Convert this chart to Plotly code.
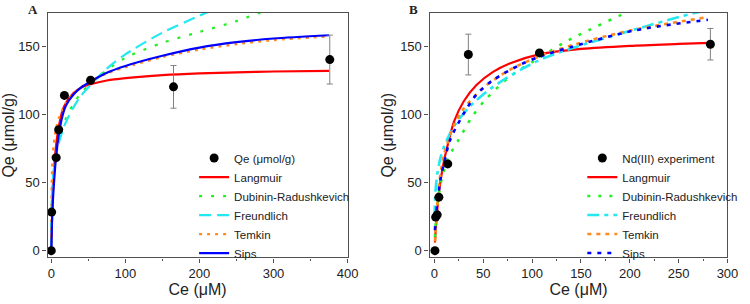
import plotly.graph_objects as go

# ---------------- Panel A data ----------------
a_exp_x = [0, 0.5, 6.6, 10, 17.7, 53, 165, 376]
a_exp_y = [0, 28.4, 68.5, 89, 114.3, 125.5, 120.6, 140.7]
a_exp_err = [0, 0, 0, 0, 0, 0, 15.7, 18]

a_lang_x = [0, 1, 2, 3, 5, 7, 10, 15, 20, 30, 40, 53, 75, 100, 150, 200, 250, 300, 375]
a_lang_y = [0, 24, 40, 52, 69, 80, 91, 103, 109, 116, 120, 122.5, 125.3, 127, 129.2, 130.5, 131.3, 131.9, 132.4]

a_dr_x = [0, 0.5, 1, 2, 3, 5, 10, 20, 30, 40, 53, 75, 100, 150, 200, 250, 281, 300]
a_dr_y = [0, 30, 40, 50, 56, 64, 80, 98, 108, 116, 123, 133, 142, 153, 161, 169, 175, 178]

a_fr_x = [0, 0.1, 0.5, 1, 2, 3, 5, 7, 10, 15, 20, 30, 40, 53, 75, 100, 150, 200, 215]
a_fr_y = [0, 23.7, 36, 43.3, 52, 58, 66, 72, 79, 88, 95, 105.5, 114, 122, 134, 144.5, 160.5, 173, 176.5]

a_tk_x = [0.05, 0.2, 0.5, 1, 2, 3, 5, 7, 10, 15, 20, 30, 40, 53, 75, 100, 150, 200, 250, 300, 375]
a_tk_y = [9, 33, 48, 59, 71, 77, 86, 91.5, 97.4, 104, 109, 115.6, 120.3, 125, 130.5, 135, 142.5, 148, 152, 155, 157.8]

a_sips_x = [0, 1, 2, 3, 5, 7, 10, 15, 20, 30, 40, 53, 75, 100, 150, 200, 250, 300, 375]
a_sips_y = [0, 22, 35, 45, 60, 72, 85, 99, 107, 115, 120, 124.5, 131, 136, 143.5, 149.5, 153.5, 156.2, 158.6]

# ---------------- Panel B data ----------------
b_exp_x = [0.5, 1.2, 2.8, 4.5, 13.6, 34.7, 107.5, 282.5]
b_exp_y = [0, 24.7, 26.4, 39.4, 63.9, 144.4, 145.6, 152]
b_exp_err = [0, 0, 0, 0, 0, 15, 0, 11.6]

b_lang_x = [0.5, 1, 2, 3, 5, 7, 10, 13.6, 20, 30, 43, 60, 77, 107, 150, 200, 250, 282]
b_lang_y = [6, 12, 22, 31, 45, 55, 67, 78, 95, 110, 122, 131.6, 137.8, 144.5, 148.5, 150.8, 152.2, 153]

b_dr_x = [0.5, 1, 2, 3, 5, 8, 14.6, 25, 38, 52, 77, 114, 134, 147, 196, 205]
b_dr_y = [10, 17, 27, 34, 44, 55, 69, 82, 98, 111, 128, 145, 153.7, 158.5, 175, 177]

b_fr_x = [0.1, 0.5, 1, 3, 6, 10, 20, 36, 60, 103.5, 140.5, 206, 266, 280]
b_fr_y = [24.3, 36.4, 43.3, 57, 68, 77, 91.6, 106, 120.6, 139, 149, 163, 175, 177]

b_tk_x = [0.5, 1, 2, 3, 5, 10, 20, 30, 50, 76.7, 107, 140.5, 200, 280]
b_tk_y = [6.8, 12, 22.8, 35, 50.5, 71.4, 92.4, 104.6, 120, 133, 143, 151.2, 162, 172]

b_sips_x = [0.5, 1, 3, 6, 10, 16, 30, 43, 60, 87, 107, 140, 206, 280]
b_sips_y = [15, 22, 36, 52, 65, 81.5, 101, 115, 125.6, 136.6, 142.7, 150, 162.3, 170]

FONT = "Liberation Sans, Arial, sans-serif"
SERIF = "Liberation Serif, Times New Roman, serif"
RED, GREEN, CYAN, ORANGE, BLUE = "#FF0000", "#22F022", "#22E8F2", "#FF8A1E", "#0000FF"

fig = go.Figure()


def curve(x, y, name, color, dash, xa, ya, leg, rank, width=2.2):
    fig.add_trace(go.Scatter(
        x=x, y=y, name=name, mode="lines",
        line=dict(color=color, width=width, dash=dash, shape="spline", smoothing=0.8),
        xaxis=xa, yaxis=ya, legend=leg, legendrank=rank))


# Panel A curves
curve(a_lang_x, a_lang_y, "Langmuir", RED, "solid", "x", "y", "legend", 2)
curve(a_dr_x, a_dr_y, "Dubinin-Radushkevich", GREEN, "3px,9px", "x", "y", "legend", 3)
curve(a_fr_x, a_fr_y, "Freundlich", CYAN, "12px,6px", "x", "y", "legend", 4)
curve(a_tk_x, a_tk_y, "Temkin", ORANGE, "3px,5px", "x", "y", "legend", 5)
curve(a_sips_x, a_sips_y, "Sips", BLUE, "solid", "x", "y", "legend", 6)

fig.add_trace(go.Scatter(
    x=a_exp_x, y=a_exp_y, name="Qe (μmol/g)", mode="markers",
    marker=dict(color="black", size=9),
    error_y=dict(type="data", array=a_exp_err, color="#808080", thickness=1, width=3),
    xaxis="x", yaxis="y", legend="legend", legendrank=1))

# Panel B curves
curve(b_lang_x, b_lang_y, "Langmuir", RED, "solid", "x2", "y2", "legend2", 2)
curve(b_dr_x, b_dr_y, "Dubinin-Radushkevich", GREEN, "3px,8px", "x2", "y2", "legend2", 3, 2.6)
curve(b_fr_x, b_fr_y, "Freundlich", CYAN, "12px,5px,4px,5px", "x2", "y2", "legend2", 4, 2.6)
curve(b_tk_x, b_tk_y, "Temkin", ORANGE, "4px,5px", "x2", "y2", "legend2", 5, 2.6)
curve(b_sips_x, b_sips_y, "Sips", BLUE, "4px,6px", "x2", "y2", "legend2", 6, 2.6)

fig.add_trace(go.Scatter(
    x=b_exp_x, y=b_exp_y, name="Nd(III) experiment", mode="markers",
    marker=dict(color="black", size=9),
    error_y=dict(type="data", array=b_exp_err, color="#808080", thickness=1, width=3),
    xaxis="x2", yaxis="y2", legend="legend2", legendrank=1))

axcommon = dict(showline=True, linecolor="#505050", linewidth=1.3, mirror=True,
                ticks="outside", ticklen=4, tickwidth=1.2, tickcolor="#505050",
                showgrid=False, zeroline=False,
                tickfont=dict(family=FONT, size=13, color="#222222"),
                title_font=dict(family=FONT, size=16, color="#222222"))

ydom = [0.1503, 0.9572]
fig.update_layout(
    width=750, height=304,
    margin=dict(l=0, r=0, t=0, b=0),
    paper_bgcolor="white", plot_bgcolor="white",
    showlegend=True,
    xaxis=dict(domain=[0.0644, 0.4703], range=[-5, 400], dtick=100, anchor="y",
               minor=dict(ticks="outside", ticklen=2.5, dtick=50, tickcolor="#505050"),
               title=dict(text="Ce (μM)", standoff=2), **axcommon),
    yaxis=dict(domain=ydom, range=[-5, 175], tickvals=[0, 50, 100, 150], anchor="x",
               title=dict(text="Qe (μmol/g)", standoff=2), **axcommon),
    xaxis2=dict(domain=[0.5813, 0.9844], range=[-5, 300], dtick=50, anchor="y2",
                minor=dict(ticks="outside", ticklen=2.5, dtick=25, tickcolor="#505050"),
                title=dict(text="Ce (μM)", standoff=2), **axcommon),
    yaxis2=dict(domain=ydom, range=[-5, 175], tickvals=[0, 50, 100, 150], anchor="x2",
                title=dict(text="Qe (μmol/g)", standoff=2), **axcommon),
    legend=dict(x=197 / 750, y=1 - 144 / 304, xanchor="left", yanchor="top",
                bgcolor="rgba(0,0,0,0)", borderwidth=0,
                font=dict(family=FONT, size=11.5, color="#222222")),
    legend2=dict(x=591 / 750, y=1 - 144 / 304, xanchor="left", yanchor="top",
                 bgcolor="rgba(0,0,0,0)", borderwidth=0,
                 font=dict(family=FONT, size=11.5, color="#222222")),
    annotations=[
        dict(text="<b>A</b>", x=33 / 750, y=1.0, xref="paper", yref="paper",
             xanchor="center", yanchor="top", showarrow=False,
             font=dict(family=SERIF, size=13, color="#222")),
        dict(text="<b>B</b>", x=420 / 750, y=1.0, xref="paper", yref="paper",
             xanchor="center", yanchor="top", showarrow=False,
             font=dict(family=SERIF, size=13, color="#222")),
    ],
)

fig.write_html("out.html")
